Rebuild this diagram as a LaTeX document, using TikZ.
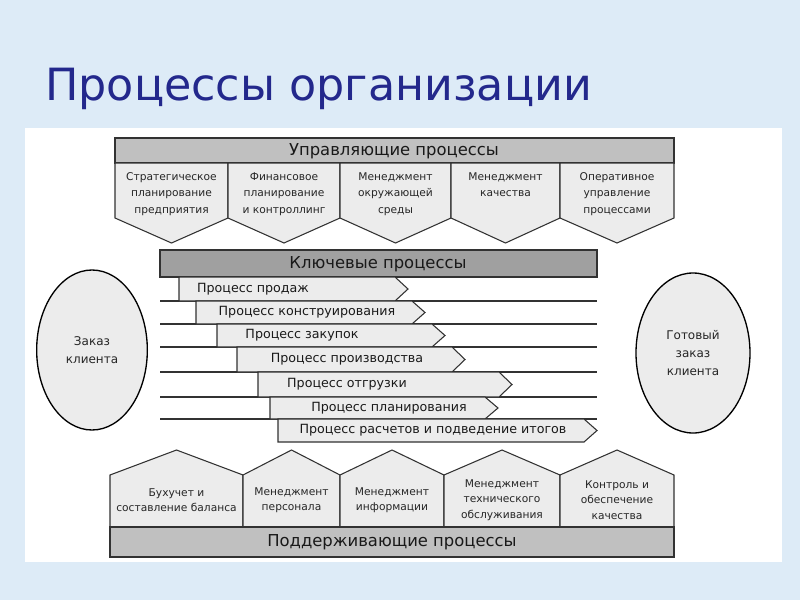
\documentclass[tikz,border=0pt]{standalone}
\usepackage{fontspec}
\setmainfont{DejaVu Sans}
\usetikzlibrary{shapes.geometric}
\definecolor{bgblue}{RGB}{221,235,247}
\definecolor{titleblue}{RGB}{35,40,140}
\definecolor{hdrgray}{RGB}{192,192,192}
\definecolor{keygray}{RGB}{160,160,160}
\definecolor{boxfill}{RGB}{236,236,236}
\definecolor{edge}{RGB}{50,50,50}
\tikzset{
  sh/.style={draw=edge, line width=0.8pt, fill=boxfill, line join=miter},
  hdr/.style={draw=edge, line width=0.8pt, fill=hdrgray},
  keyhdr/.style={draw=edge, line width=0.8pt, fill=keygray},
  small/.style={font=\fontsize{8}{12.4}\selectfont, align=center, text=black!85, inner sep=0pt},
  rowt/.style={font=\fontsize{9.5}{11}\selectfont, text=black!90, inner sep=0pt},
  ht/.style={font=\fontsize{12.3}{14}\selectfont, text=black!90, inner sep=0pt},
  rowline/.style={draw=edge, line width=0.8pt},
  oval/.style={ellipse, draw=black, line width=1pt, fill=boxfill, inner sep=0pt,
    font=\fontsize{9}{13.5}\selectfont, align=center, text=black!85},
}
\begin{document}
\begin{tikzpicture}[x=0.75pt,y=-0.75pt]
\useasboundingbox (0,0) rectangle (800,600);
\fill[bgblue] (0,0) rectangle (800,600);
\fill[white] (25,128) rectangle (782,562);

\node[anchor=base west, font=\fontsize{33.3}{40}\selectfont, text=titleblue, inner sep=0pt] (title) at (45,100) {Процессы организации};

% Managing processes
\draw[hdr] (115,138) rectangle (674,163);
\node[ht] (mh) at (394,151) {Управляющие процессы};
\foreach \a/\b/\t/\n in {
  115/228/{Стратегическое\\планирование\\предприятия}/m1,
  228/340/{Финансовое\\планирование\\и контроллинг}/m2,
  340/451/{Менеджмент\\окружающей\\среды}/m3,
  451/560/{Менеджмент\\качества}/m4,
  560/674/{Оперативное\\управление\\процессами}/m5}{
  \draw[sh] (\a,163) -- (\b,163) -- (\b,218) -- ({(\a+\b)/2},243) -- (\a,218) -- cycle;
  \node[small, anchor=north] (\n) at ({(\a+\b)/2},172) {\t};
}

% Key processes
\draw[keyhdr] (160,250) rectangle (597,277);
\node[ht] (kh) at (378,264) {Ключевые процессы};
\foreach \y in {301,324,347,372,397,419}{
  \draw[rowline] (160,\y) -- (597,\y);
}
\foreach \l/\t/\b/\p/\tx/\txt/\n in {
  179/277/301/408/253/{Процесс продаж}/k1,
  196/301/324/425/307/{Процесс конструирования}/k2,
  217/324/347/445/302/{Процесс закупок}/k3,
  237/347/372/465/347/{Процесс производства}/k4,
  258/372/397/512/347/{Процесс отгрузки}/k5,
  270/397/419/498/389/{Процесс планирования}/k6,
  278/419/442/597/433/{Процесс расчетов и подведение итогов}/k7}{
  \draw[sh] (\l,\t) -- ({\p-13},\t) -- (\p,{(\t+\b)/2}) -- ({\p-13},\b) -- (\l,\b) -- cycle;
  \node[rowt] (\n) at (\tx,{(\t+\b)/2}) {\txt};
}

% Ovals
\node[oval, minimum width=83pt, minimum height=120pt] (order) at (92,350) {Заказ\\клиента};
\node[oval, minimum width=85.5pt, minimum height=120pt] (done) at (693,353) {Готовый\\заказ\\клиента};

% Supporting processes
\foreach \a/\b/\t/\n in {
  110/243/{Бухучет и\\составление баланса}/s1,
  243/340/{Менеджмент\\персонала}/s2,
  340/444/{Менеджмент\\информации}/s3,
  444/560/{Менеджмент\\технического\\обслуживания}/s4,
  560/674/{Контроль и\\обеспечение\\качества}/s5}{
  \draw[sh] (\a,527) -- (\a,475) -- ({(\a+\b)/2},450) -- (\b,475) -- (\b,527) -- cycle;
  \node[small, font=\fontsize{8}{11.5}\selectfont] (\n) at ({(\a+\b)/2},500) {\t};
}
\draw[hdr] (110,527) rectangle (674,557);
\node[ht] (sh) at (392,542) {Поддерживающие процессы};
\end{tikzpicture}
\end{document}
